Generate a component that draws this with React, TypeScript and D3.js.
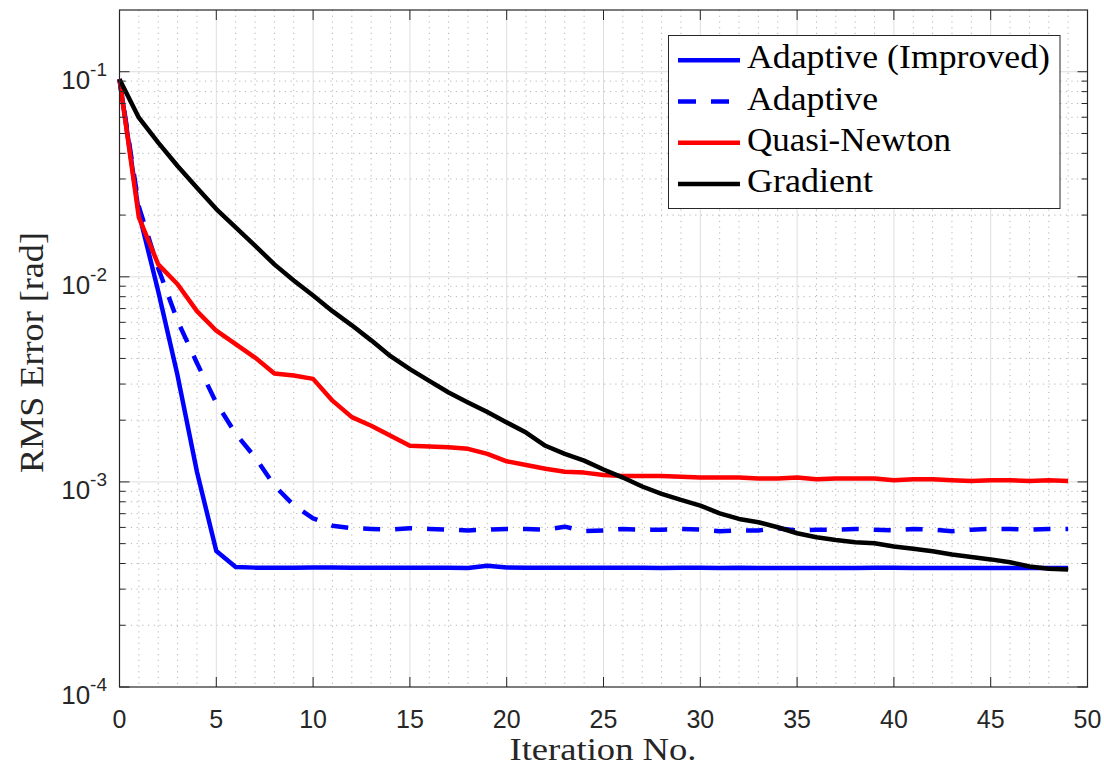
import React from 'react';
import * as d3 from 'd3';

// ---- Data ----
const adaptiveImproved: number[] = [
  0.092, 0.0205, 0.0085, 0.0033, 0.00112, 0.00046, 0.000385, 0.000382, 0.000381, 0.000381,
  0.000383, 0.000383, 0.000382, 0.000381, 0.000381, 0.000381, 0.000381, 0.000382, 0.00038, 0.00039,
  0.000383, 0.000382, 0.000382, 0.000382, 0.000381, 0.000381, 0.000381, 0.000382, 0.00038, 0.000381,
  0.000381, 0.00038, 0.000382, 0.00038, 0.00038, 0.00038, 0.00038, 0.00038, 0.00038, 0.000381,
  0.000382, 0.00038, 0.00038, 0.00038, 0.00038, 0.00038, 0.00038, 0.00038, 0.00038, 0.00038,
];

const adaptive: number[] = [
  0.092, 0.022, 0.011, 0.0061, 0.0038, 0.00243, 0.00172, 0.00132, 0.00096, 0.00077,
  0.000664, 0.000612, 0.000595, 0.00059, 0.000585, 0.000595, 0.00059, 0.000585, 0.00058, 0.000585,
  0.00059, 0.00059, 0.000585, 0.000605, 0.000575, 0.00058, 0.00059, 0.000585, 0.000585, 0.00059,
  0.000585, 0.000575, 0.00058, 0.00058, 0.000595, 0.00058, 0.000585, 0.000585, 0.00059, 0.000585,
  0.00058, 0.00059, 0.000585, 0.000575, 0.000585, 0.00059, 0.00059, 0.000585, 0.00059, 0.00059,
];

const quasiNewton: number[] = [
  0.092, 0.0195, 0.0115, 0.0092, 0.0068, 0.00546, 0.0047, 0.00404, 0.00338, 0.0033,
  0.00318, 0.00249, 0.00207, 0.00188, 0.00168, 0.0015, 0.00149, 0.001476, 0.00145, 0.00137,
  0.00126, 0.00121, 0.00116, 0.00112, 0.00111, 0.00108, 0.00107, 0.00107, 0.00107, 0.00106,
  0.00105, 0.00105, 0.00105, 0.00104, 0.00104, 0.00105, 0.00103, 0.00104, 0.00104, 0.00104,
  0.00102, 0.00103, 0.00103, 0.00102, 0.00101, 0.00102, 0.00102, 0.00101, 0.00102, 0.00101,
];

const gradient: number[] = [
  0.092, 0.0597, 0.0451, 0.0347, 0.0272, 0.0214, 0.0174, 0.0142, 0.0115, 0.0096,
  0.0081, 0.0068, 0.0058, 0.0049, 0.0041, 0.00355, 0.00311, 0.00273, 0.00244, 0.00219,
  0.00195, 0.00174, 0.0015, 0.00137, 0.00127, 0.00115, 0.00105, 0.00095, 0.000875, 0.000817,
  0.000767, 0.000703, 0.00066, 0.000636, 0.000601, 0.000562, 0.000537, 0.000521, 0.000508, 0.000502,
  0.000484, 0.000472, 0.000459, 0.000443, 0.00043, 0.000419, 0.000406, 0.000387, 0.000377, 0.000374,
];

const xTicks: number[] = [0, 5, 10, 15, 20, 25, 30, 35, 40, 45, 50];
const yTickExponents: number[] = [-4, -3, -2, -1];
const legendLabels: string[] = ['Adaptive (Improved)', 'Adaptive', 'Quasi-Newton', 'Gradient'];
const legendTextWidths: number[] = [303, 131, 204, 126];

const W = 1104;
const H = 767;
const L = 119.5, R = 1087.5, T = 10, B = 687;
const AX = '#262626';
const SANS = '"Liberation Sans", Arial, Helvetica, sans-serif';
const SERIF = '"Liberation Serif", "Times New Roman", serif';

export default function App() {
  const x = d3.scaleLinear().domain([0, 50]).range([L, R]);
  const y = d3.scaleLog().domain([1e-4, 0.2]).range([B, T]);

  const line = d3
    .line<number>()
    .x((_, i) => x(i))
    .y((d) => y(d));

  const minorX: number[] = d3.range(1, 50).filter((v) => v % 5 !== 0);
  const minorY: number[] = [];
  for (const e of [-4, -3, -2, -1]) {
    for (let k = 2; k <= 9; k++) {
      const v = k * Math.pow(10, e);
      if (v < 0.2 - 1e-9) minorY.push(v);
    }
  }

  const series = [
    { data: adaptiveImproved, color: '#0000ff', dash: undefined as string | undefined },
    { data: adaptive, color: '#0000ff', dash: '17 15' },
    { data: quasiNewton, color: '#ff0000', dash: undefined },
    { data: gradient, color: '#000000', dash: undefined },
  ];

  const legendX = 668.5, legendY = 35.5, legendW = 391.5, legendH = 173;
  const rowBase = [68.3, 109.5, 150.7, 191.9];

  return (
    <svg
      width={W}
      height={H}
      style={{ position: 'absolute', left: 0, top: 0, background: '#fff' }}
    >
      <rect x={0} y={0} width={W} height={H} fill="#fff" />
      {/* minor grid */}
      <g stroke="#b4b4b4" strokeWidth={1} strokeDasharray="1.2 4.5">
        {minorX.map((v) => (
          <line key={'mx' + v} x1={x(v)} x2={x(v)} y1={T} y2={B} />
        ))}
        {minorY.map((v, i) => (
          <line key={'my' + i} x1={L} x2={R} y1={y(v)} y2={y(v)} />
        ))}
      </g>
      {/* major grid */}
      <g stroke="#dedede" strokeWidth={1}>
        {xTicks.slice(1, -1).map((v) => (
          <line key={'gx' + v} x1={x(v)} x2={x(v)} y1={T} y2={B} />
        ))}
        {yTickExponents.slice(1).map((e) => (
          <line key={'gy' + e} x1={L} x2={R} y1={y(Math.pow(10, e))} y2={y(Math.pow(10, e))} />
        ))}
      </g>
      {/* series */}
      <g fill="none" strokeWidth={4.5} strokeLinejoin="round">
        {series.map((s, i) => (
          <path
            key={i}
            d={line(s.data) || ''}
            stroke={s.color}
            strokeDasharray={s.dash}
          />
        ))}
      </g>
      {/* ticks */}
      <g stroke={AX} strokeWidth={1}>
        {xTicks.map((v) => (
          <g key={'tx' + v}>
            <line x1={x(v)} x2={x(v)} y1={B} y2={B - 10} />
            <line x1={x(v)} x2={x(v)} y1={T} y2={T + 10} />
          </g>
        ))}
        {yTickExponents.map((e) => {
          const yy = y(Math.pow(10, e));
          return (
            <g key={'ty' + e}>
              <line x1={L} x2={L + 10} y1={yy} y2={yy} />
              <line x1={R} x2={R - 10} y1={yy} y2={yy} />
            </g>
          );
        })}
        {minorY.map((v, i) => (
          <g key={'tmy' + i}>
            <line x1={L} x2={L + 6} y1={y(v)} y2={y(v)} />
            <line x1={R} x2={R - 6} y1={y(v)} y2={y(v)} />
          </g>
        ))}
      </g>
      {/* axes box */}
      <rect x={L} y={T} width={R - L} height={B - T} fill="none" stroke={AX} strokeWidth={1.2} />
      {/* x tick labels */}
      <g fontFamily={SANS} fontSize={25} fill={AX} textAnchor="middle">
        {xTicks.map((v) => (
          <text key={'lx' + v} x={x(v)} y={727.5}>
            {v}
          </text>
        ))}
      </g>
      {/* y tick labels */}
      <g fontFamily={SANS} fill={AX} textAnchor="end">
        {yTickExponents.map((e) => (
          <text key={'ly' + e} x={107} y={y(Math.pow(10, e)) + 17} fontSize={26}>
            10
            <tspan fontSize={19} dy={-13}>
              {'-' + Math.abs(e)}
            </tspan>
          </text>
        ))}
      </g>
      {/* axis labels */}
      <text
        x={603}
        y={760}
        fontFamily={SERIF}
        fontSize={32}
        fill={AX}
        textAnchor="middle"
        textLength={187}
        lengthAdjust="spacingAndGlyphs"
      >
        Iteration No.
      </text>
      <text
        transform={`translate(43,352.5) rotate(-90)`}
        fontFamily={SERIF}
        fontSize={33}
        fill={AX}
        textAnchor="middle"
        textLength={241}
        lengthAdjust="spacingAndGlyphs"
      >
        RMS Error [rad]
      </text>
      {/* legend */}
      <rect x={legendX} y={legendY} width={legendW} height={legendH} fill="#fff" stroke={AX} strokeWidth={1} />
      {legendLabels.map((lab, i) => (
        <g key={'lg' + i}>
          <line
            x1={678}
            x2={740}
            y1={rowBase[i] - 8}
            y2={rowBase[i] - 8}
            stroke={series[i].color}
            strokeWidth={4.5}
            strokeDasharray={series[i].dash ? '18 15' : undefined}
          />
          <text
            x={747}
            y={rowBase[i]}
            fontFamily={SERIF}
            fontSize={33}
            fill="#000"
            textLength={legendTextWidths[i]}
            lengthAdjust="spacingAndGlyphs"
          >
            {lab}
          </text>
        </g>
      ))}
    </svg>
  );
}
